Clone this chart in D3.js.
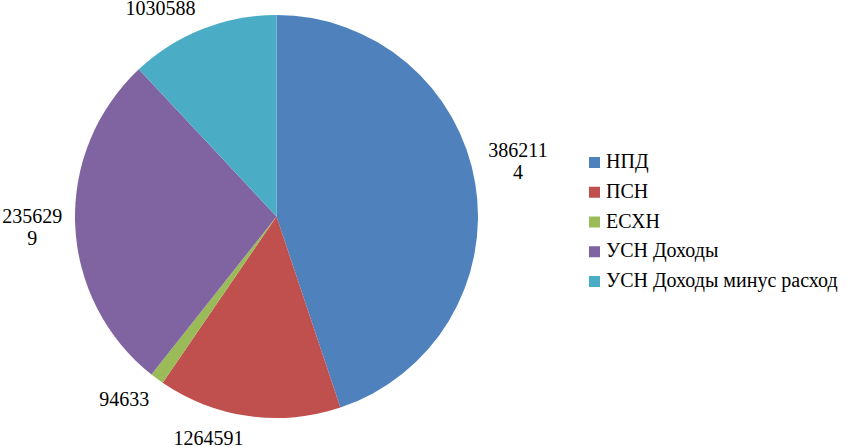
<!DOCTYPE html>
<html>
<head>
<meta charset="utf-8">
<script src="https://cdn.jsdelivr.net/npm/d3@7"></script>
<style>
  body { margin: 0; background: #fff; font-family: "Liberation Serif", "DejaVu Serif", serif; }
  svg text { font-family: "Liberation Serif", "DejaVu Serif", serif; }
</style>
</head>
<body>
<script>
// chart data
const categories = ["НПД", "ПСН", "ЕСХН", "УСН Доходы", "УСН Доходы минус расход"];
const values = [3862114, 1264591, 94633, 2356299, 1030588];
const colors = ["#4F81BD", "#C0504D", "#9BBB59", "#8064A2", "#4BACC6"];
// max chars per label line (Excel wrapped the long ones)
const labelWrap = [6, 0, 0, 6, 0];
// label nudges from the outer centroid, px
const labelNudge = [[13, -22], [-36, -1], [-15, 3], [-13, -3], [-31, 14]];

const width = 852, height = 447;
const cx = 276.5, cy = 216.5, r = 201.5;

const svg = d3.select("body").append("svg")
  .attr("width", width)
  .attr("height", height)
  .style("font-family", "Liberation Serif, DejaVu Serif, serif");

const pie = d3.pie().sort(null).value(d => d.value);
const arcs = pie(values.map((v, i) => ({ name: categories[i], value: v, i: i })));

const arc = d3.arc().innerRadius(0).outerRadius(r);
const labelArc = d3.arc().innerRadius(r + 30).outerRadius(r + 30);

const g = svg.append("g").attr("transform", `translate(${cx},${cy})`);

g.selectAll("path.slice")
  .data(arcs)
  .join("path")
  .attr("class", "slice")
  .attr("d", arc)
  .attr("fill", d => colors[d.data.i]);

// data labels
const labels = g.selectAll("text.lbl")
  .data(arcs)
  .join("text")
  .attr("class", "lbl")
  .attr("text-anchor", "middle")
  .style("font-size", "20px")
  .attr("fill", "#000")
  .attr("transform", d => {
    const c = labelArc.centroid(d);
    const n = labelNudge[d.data.i];
    return `translate(${c[0] + n[0]},${c[1] + n[1]})`;
  });

labels.each(function(d) {
  const s = String(d.data.value);
  const w = labelWrap[d.data.i];
  const lines = [];
  if (w > 0) {
    for (let k = 0; k < s.length; k += w) lines.push(s.slice(k, k + w));
  } else {
    lines.push(s);
  }
  d3.select(this).selectAll("tspan")
    .data(lines)
    .join("tspan")
    .attr("x", 0)
    .attr("y", (l, k) => k * 22)
    .text(l => l);
});

// legend
const legY = d3.scalePoint().domain(categories).range([168, 287]);
const leg = svg.append("g");
const items = leg.selectAll("g")
  .data(categories)
  .join("g")
  .attr("transform", d => `translate(589,${legY(d)})`);

items.append("rect")
  .attr("x", 0)
  .attr("y", -11)
  .attr("width", 11)
  .attr("height", 11)
  .attr("fill", (d, i) => colors[i]);

items.append("text")
  .attr("x", 17)
  .attr("y", 0)
  .style("font-size", "20px")
  .attr("fill", "#000")
  .text(d => d);
</script>
</body>
</html>
